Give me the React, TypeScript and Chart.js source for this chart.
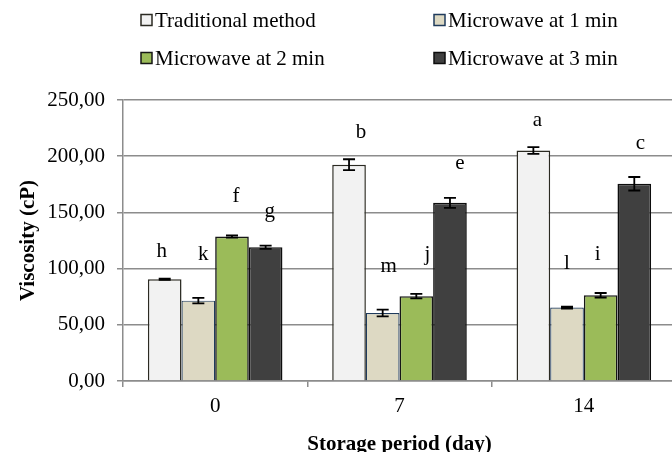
import React, { useEffect, useRef } from 'react';
import { Chart, registerables } from 'chart.js';

Chart.register(...registerables);

// Storage period categories (days)
const storageDays = ['0', '7', '14'];

const seriesNames = [
  'Traditional method',
  'Microwave at 1 min',
  'Microwave at 2 min',
  'Microwave at 3 min',
];

// Mean viscosity (cP) and standard deviation per storage day
const traditional = [90.5, 192.5, 205.0];
const traditionalSd = [0.5, 4.8, 3.0];
const microwave1 = [71.5, 60.5, 65.3];
const microwave1Sd = [2.5, 3.0, 0.8];
const microwave2 = [128.5, 75.5, 76.3];
const microwave2Sd = [1.0, 2.0, 2.0];
const microwave3 = [119.0, 158.5, 175.5];
const microwave3Sd = [1.5, 4.5, 6.0];

// Significance letters
const traditionalLetters = ['h', 'b', 'a'];
const microwave1Letters = ['k', 'm', 'l'];
const microwave2Letters = ['f', 'j', 'i'];
const microwave3Letters = ['g', 'e', 'c'];

const yTicks = [0, 50, 100, 150, 200, 250];

const means = [traditional, microwave1, microwave2, microwave3];
const sds = [traditionalSd, microwave1Sd, microwave2Sd, microwave3Sd];
const letters = [traditionalLetters, microwave1Letters, microwave2Letters, microwave3Letters];

// Styling
const FONT = '"Liberation Serif", "Times New Roman", serif';
const fills = ['#f2f2f2', '#ddd9c3', '#9bbb59', '#404040'];
const borders = ['#2b2a22', '#1f3b5c', '#161616', '#0d0d0d'];
const borderWidths = [1.5, 1.2, 1.6, 1.6];
const gridColor = '#8c8c8c';
const letterLift = [27, 43, 39, 34];
const letterNudge = [
  [-3, 12, 4],
  [5, 6, 0],
  [4, 11, -3],
  [4, 10, 6],
];

const annotations = {
  id: 'annotations',
  afterDatasetsDraw(chart: any) {
    const ctx = chart.ctx;
    const y = chart.scales.y;
    chart.data.datasets.forEach((ds: any, i: number) => {
      const meta = chart.getDatasetMeta(i);
      meta.data.forEach((bar: any, j: number) => {
        const v = ds.data[j];
        const e = sds[i][j];
        const top = y.getPixelForValue(v + e);
        const bot = y.getPixelForValue(v - e);
        ctx.save();
        ctx.strokeStyle = '#000';
        ctx.lineWidth = 1.8;
        ctx.beginPath();
        ctx.moveTo(bar.x, top);
        ctx.lineTo(bar.x, bot);
        ctx.moveTo(bar.x - 6, top);
        ctx.lineTo(bar.x + 6, top);
        ctx.moveTo(bar.x - 6, bot);
        ctx.lineTo(bar.x + 6, bot);
        ctx.stroke();
        ctx.fillStyle = '#000';
        ctx.font = `21px ${FONT}`;
        ctx.textAlign = 'center';
        ctx.textBaseline = 'middle';
        ctx.fillText(letters[i][j], bar.x + letterNudge[i][j], top - letterLift[i]);
        ctx.restore();
      });
    });
  },
  afterDraw(chart: any) {
    const ctx = chart.ctx;
    const area = chart.chartArea;
    ctx.save();
    // legend, two columns by two rows
    const cols = [141, 434];
    const rows = [20, 58];
    ctx.font = `21px ${FONT}`;
    ctx.textAlign = 'left';
    ctx.textBaseline = 'middle';
    seriesNames.forEach((name, i) => {
      const bx = cols[i % 2];
      const by = rows[Math.floor(i / 2)];
      ctx.fillStyle = fills[i];
      ctx.fillRect(bx, by - 5.5, 11, 11);
      ctx.strokeStyle = borders[i];
      ctx.lineWidth = 1.5;
      ctx.strokeRect(bx, by - 5.5, 11, 11);
      ctx.fillStyle = '#000';
      ctx.fillText(name, bx + 14, by + 1);
    });

    // axis titles
    ctx.font = `bold 21px ${FONT}`;
    ctx.textAlign = 'center';
    ctx.textBaseline = 'alphabetic';
    ctx.fillText('Storage period (day)', (area.left + area.right) / 2, 450);

    ctx.translate(29, (area.top + area.bottom) / 2);
    ctx.rotate(-Math.PI / 2);
    ctx.textBaseline = 'middle';
    ctx.fillText('Viscosity (cP)', 0, 0);
    ctx.restore();
  },
};

export default function App() {
  const canvasRef = useRef<HTMLCanvasElement | null>(null);

  useEffect(() => {
    if (!canvasRef.current) return;
    const chart = new Chart(canvasRef.current, {
      type: 'bar',
      data: {
        labels: storageDays,
        datasets: means.map((m, i) => ({
          label: seriesNames[i],
          data: m,
          backgroundColor: fills[i],
          borderColor: borders[i],
          borderWidth: borderWidths[i],
          borderSkipped: 'bottom',
          categoryPercentage: 0.73,
          barPercentage: 1,
        })),
      },
      options: {
        responsive: false,
        animation: false,
        devicePixelRatio: 1,
        layout: { padding: { top: 100, right: 4, left: 0, bottom: 0 } },
        plugins: {
          legend: { display: false },
          tooltip: { enabled: false },
        },
        scales: {
          x: {
            grid: {
              offset: true,
              drawOnChartArea: false,
              drawTicks: true,
              tickLength: 6,
              color: gridColor,
              lineWidth: 1.5,
            },
            border: { color: gridColor, width: 1.5 },
            ticks: { font: { family: FONT, size: 21 }, color: '#000', padding: 7 },
            afterFit: (s: any) => {
              s.height = 71;
            },
          },
          y: {
            min: 0,
            max: 250,
            afterBuildTicks: (s: any) => {
              s.ticks = yTicks.map((v) => ({ value: v }));
            },
            ticks: {
              font: { family: FONT, size: 21 },
              color: '#000',
              padding: 12,
              callback: (v: any) => Number(v).toFixed(2).replace('.', ','),
            },
            grid: { color: gridColor, lineWidth: 1.5, tickLength: 6 },
            border: { color: gridColor, width: 1.5 },
            afterFit: (s: any) => {
              s.width = 123;
            },
          },
        },
      } as any,
      plugins: [annotations],
    });
    return () => chart.destroy();
  }, []);

  return (
    <div
      style={{
        position: 'fixed',
        left: 0,
        top: 0,
        width: 672,
        height: 452,
        overflow: 'hidden',
        background: '#fff',
      }}
    >
      <canvas ref={canvasRef} width={680} height={452} style={{ display: 'block' }} />
    </div>
  );
}
